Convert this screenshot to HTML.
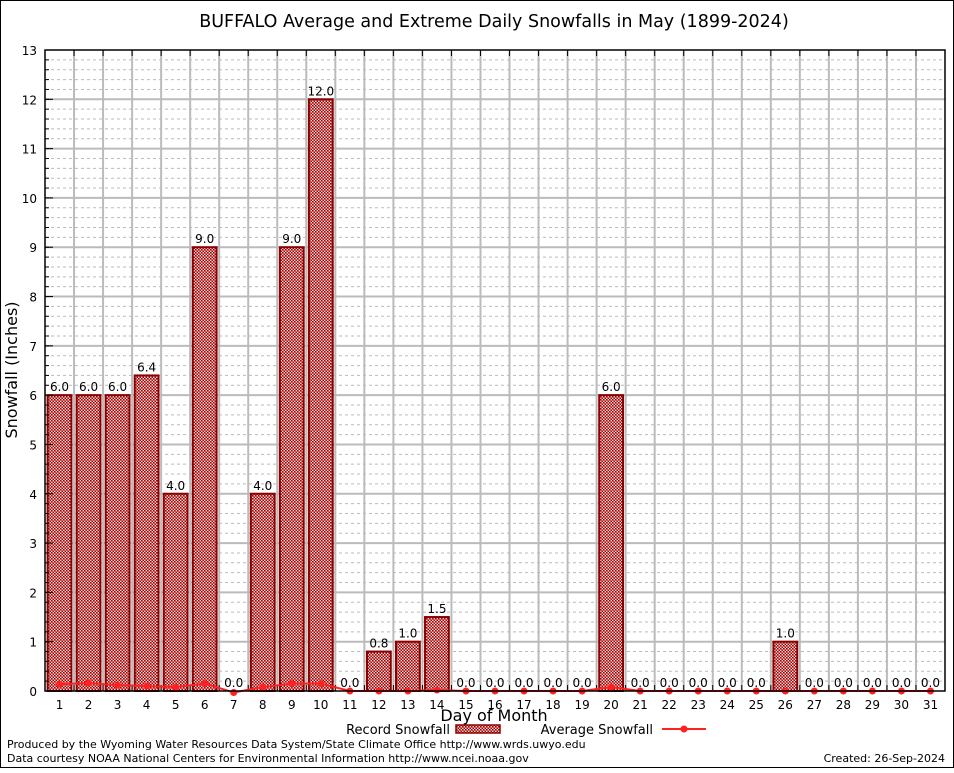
<!DOCTYPE html>
<html><head><meta charset="utf-8"><style>
body{margin:0;background:#fff;}
svg text{font-family:"DejaVu Sans","Liberation Sans",sans-serif;}
</style></head><body>
<svg id="chart" width="954" height="768" xmlns="http://www.w3.org/2000/svg">
<defs>
<pattern id="chk" width="3" height="3" patternUnits="userSpaceOnUse">
<rect width="3" height="3" fill="#f4dada"/>
<rect width="1.6" height="1.6" fill="#a80000"/>
<rect x="1.5" y="1.5" width="1.6" height="1.6" fill="#a80000"/>
</pattern>
</defs>
<rect x="0.5" y="0.5" width="953" height="767" fill="#fff" stroke="#000"/>
<text x="494" y="27" text-anchor="middle" font-size="17.5">BUFFALO Average and Extreme Daily Snowfalls in May (1899-2024)</text>
<g id="grid"></g>
<g id="bars"></g>
<g id="avg"></g>
<g id="axes"></g>
<text x="17" y="370" text-anchor="middle" font-size="16" transform="rotate(-90 17 370)">Snowfall (Inches)</text>
<text x="494" y="721" text-anchor="middle" font-size="16">Day of Month</text>
<g>
<text x="450" y="734" text-anchor="end" font-size="13">Record Snowfall</text>
<rect x="456" y="725" width="44" height="8" fill="url(#chk)" stroke="#8b0000" stroke-width="1.5"/>
</g>
<g>
<text x="653" y="734" text-anchor="end" font-size="13">Average Snowfall</text>
<line x1="662" y1="729" x2="706" y2="729" stroke="#ff2020" stroke-width="2"/>
<circle cx="684" cy="729" r="3.5" fill="#ff2020"/>
</g>
<text x="7" y="748" font-size="11">Produced by the Wyoming Water Resources Data System/State Climate Office http://www.wrds.uwyo.edu</text>
<text x="7" y="762" font-size="11">Data courtesy NOAA National Centers for Environmental Information http://www.ncei.noaa.gov</text>
<text x="945" y="762" text-anchor="end" font-size="11">Created: 26-Sep-2024</text>
</svg>
<script>
const days=[1,2,3,4,5,6,7,8,9,10,11,12,13,14,15,16,17,18,19,20,21,22,23,24,25,26,27,28,29,30,31];
const recordValues=[6.0,6.0,6.0,6.4,4.0,9.0,0.0,4.0,9.0,12.0,0.0,0.8,1.0,1.5,0.0,0.0,0.0,0.0,0.0,6.0,0.0,0.0,0.0,0.0,0.0,1.0,0.0,0.0,0.0,0.0,0.0];
const avgValues=[0.14,0.16,0.12,0.10,0.08,0.15,-0.03,0.08,0.15,0.15,0.0,0.0,0.0,0.02,0.0,0.0,0.0,0.0,0.0,0.08,0.0,0.0,0.0,0.0,0.0,0.0,0.0,0.0,0.0,0.0,0.0];
const yTicks=[0,1,2,3,4,5,6,7,8,9,10,11,12,13];
const X0=45,X1=945,Y0=691,Y1=50,YMAX=13;
const n=days.length;
const xs=d=>X0+(d-0.5)*(X1-X0)/n;
const ys=v=>Y0-v*(Y0-Y1)/YMAX;
const NS="http://www.w3.org/2000/svg";
function mk(tag,attrs,parent,txt){const e=document.createElementNS(NS,tag);for(const k in attrs)e.setAttribute(k,attrs[k]);if(txt!==undefined)e.textContent=txt;parent.appendChild(e);return e;}
const grid=document.getElementById('grid'),bars=document.getElementById('bars'),avg=document.getElementById('avg'),axes=document.getElementById('axes');
for(let v=0.2;v<YMAX;v+=0.2){if(Math.abs(v-Math.round(v))<0.01)continue;mk('line',{x1:X0,x2:X1,y1:ys(v),y2:ys(v),stroke:'#bbb','stroke-dasharray':'3,3','stroke-width':1},grid);}
for(const t of yTicks){if(t>0&&t<YMAX)mk('line',{x1:X0,x2:X1,y1:ys(t),y2:ys(t),stroke:'#bbb','stroke-width':2},grid);}
for(let k=1;k<n;k++){const x=X0+k*(X1-X0)/n;mk('line',{x1:x,x2:x,y1:Y1,y2:Y0,stroke:'#bbb','stroke-width':2},grid);mk('line',{x1:x,x2:x,y1:Y1,y2:Y1+6,stroke:'#000'},grid);mk('line',{x1:x,x2:x,y1:Y0,y2:Y0-6,stroke:'#000'},grid);}
const bw=(X1-X0)/n*0.82;
days.forEach((d,i)=>{
 const v=recordValues[i],x=xs(d);
 if(v>0){const r=mk('rect',{x:x-bw/2,y:ys(v),width:bw,height:Y0-ys(v),fill:'url(#chk)',stroke:'#8b0000','stroke-width':2},bars);
 
 }
 const t=mk('text',{x:x,y:ys(v)-4,'text-anchor':'middle','font-size':12},bars,v.toFixed(1));
 
 
 const xl=mk('text',{x:x,y:Y0+18,'text-anchor':'middle','font-size':12,'font-family':'Liberation Serif, serif'},axes,String(d));
 
 
});
let pts=days.map((d,i)=>xs(d)+','+ys(avgValues[i])).join(' ');
const pl=mk('polyline',{points:pts,fill:'none',stroke:'#ff2020','stroke-width':2},avg);


days.forEach((d,i)=>{const c=mk('circle',{cx:xs(d),cy:ys(avgValues[i]),r:3.5,fill:'#ff2020'},avg);
 
 });
for(const t of yTicks){const l=mk('text',{x:X0-8,y:ys(t)+5,'text-anchor':'end','font-size':12,'font-family':'Liberation Serif, serif'},axes,String(t));
 
 
 mk('line',{x1:X0,x2:X0+8,y1:ys(t),y2:ys(t),stroke:'#000'},axes);}
for(let v=0.2;v<YMAX;v+=0.2)mk('line',{x1:X0,x2:X0+4,y1:ys(v),y2:ys(v),stroke:'#000'},axes);
const fr=mk('rect',{x:X0,y:Y1,width:X1-X0,height:Y0-Y1,fill:'none',stroke:'#000','stroke-width':1.5},axes);


</script>
</body></html>
